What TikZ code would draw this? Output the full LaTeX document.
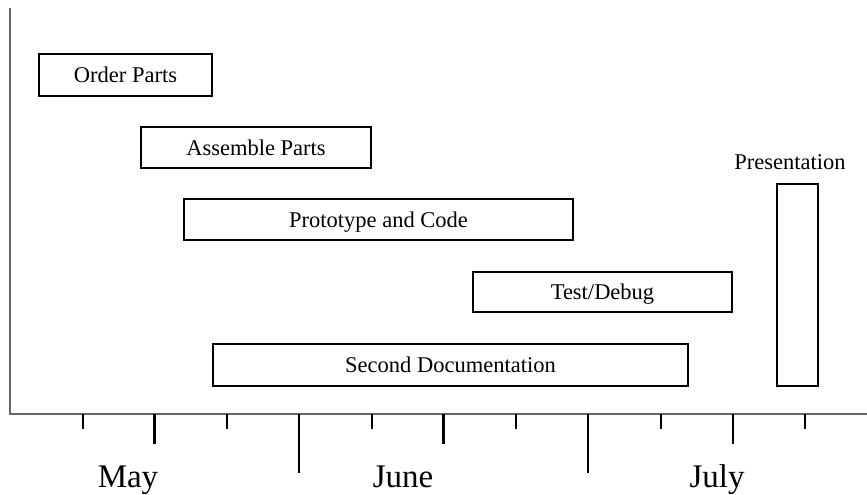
\documentclass[tikz,border=0pt]{standalone}
\usepackage{fontspec}
\setmainfont{Liberation Serif}
\begin{document}
\begin{tikzpicture}[x=1pt,y=-1pt,
  taskbar/.style={draw=black, line width=1.9pt, inner sep=0pt,
    text height=15pt, text depth=0pt,
    font=\fontsize{22.5}{26}\selectfont},
  axisline/.style={draw=black!60, line width=1.1pt},
  minortick/.style={draw=black, line width=2pt},
  weektick/.style={draw=black, line width=2.3pt},
  monthtick/.style={draw=black, line width=2.1pt},
  month/.style={font=\fontsize{33}{38}\selectfont, anchor=base}]
\useasboundingbox (0,0) rectangle (867,495);

% axes
\coordinate (origin) at (10,414);
\coordinate (ytop) at (10,8);
\coordinate (xend) at (867,414);
\draw[axisline] (ytop) -- (origin) -- (xend);

% tick marks along the time axis
\foreach \x in {82.5,227,371.5,516,660.5,805}
  \draw[minortick] (\x,414) -- (\x,429);
\foreach \x in {154.5,443.5,733}
  \draw[weektick] (\x,414) -- (\x,444);
\foreach \x in {299,588}
  \draw[monthtick] (\x,414) -- (\x,473);

% month labels
\node[month] (may) at (128,487) {May};
\node[month] (june) at (403,487) {June};
\node[month] (july) at (717,487) {July};

% schedule bars
\node[taskbar, minimum width=173pt, minimum height=42pt] (order) at (125.5,75) {Order Parts};
\node[taskbar, minimum width=230pt, minimum height=41pt] (assemble) at (256,147.5) {Assemble Parts};
\node[taskbar, minimum width=389pt, minimum height=41pt] (proto) at (378.5,219.5) {Prototype and Code};
\node[taskbar, minimum width=259pt, minimum height=40pt] (test) at (602.5,292) {Test/Debug};
\node[taskbar, minimum width=475pt, minimum height=42pt] (doc) at (450.5,365) {Second Documentation};
\node[taskbar, minimum width=41pt, minimum height=202pt] (pres) at (797.5,285) {};
\node[font=\fontsize{22.5}{26}\selectfont, anchor=base] (preslabel) at (790,169) {Presentation};
\end{tikzpicture}
\end{document}
